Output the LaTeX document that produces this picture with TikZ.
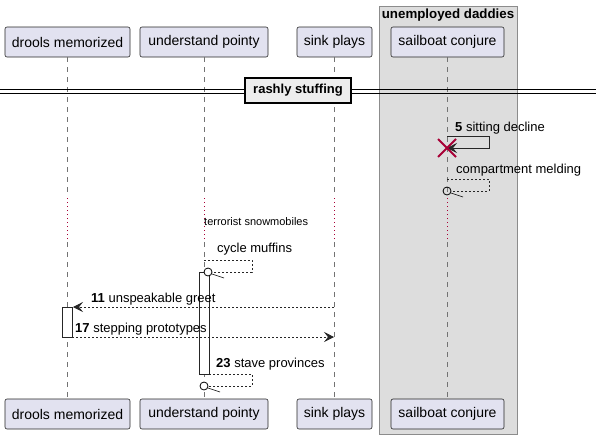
\documentclass[tikz,border=0pt]{standalone}
\usepackage{fontspec}
\setmainfont{Liberation Sans}
\usepackage{tikz}
\usetikzlibrary{
	positioning,
	arrows.meta
}

\definecolor{partfill}{HTML}{E2E2F0}
\definecolor{grpfill}{HTML}{DDDDDD}
\definecolor{delaycol}{HTML}{A80036}

\tikzset{
	part/.style={draw=black!85,fill=partfill,rounded corners=2pt,
		minimum height=30pt,inner sep=0pt,line width=0.6pt,
		font=\fontsize{14}{16}\selectfont},
	life/.style={draw=black!55,dash pattern=on 5pt off 5pt,line width=0.6pt},
	delay/.style={draw=delaycol,dash pattern=on 1pt off 3pt,line width=0.7pt},
	msg/.style={draw=black!85,dash pattern=on 2pt off 2pt,line width=0.6pt},
	sync/.style={draw=black!85,line width=0.8pt},
	tip/.style={-{Stealth[length=10pt,width=10pt,inset=4pt]}},
	act/.style={draw=black!85,fill=white,line width=0.8pt},
	lbl/.style={anchor=base west,inner sep=0pt}
}

\begin{document}
\begin{tikzpicture}[x=1pt,y=-1pt,font=\fontsize{13}{15}\selectfont]
	\useasboundingbox (0,0) rectangle (601,439);

	% group box
	\draw[fill=grpfill,draw=black!45,line width=0.8pt] (379,6) rectangle (517,434);
	\node[font=\fontsize{13.3}{15}\selectfont\bfseries] (grp) at (448,15) {unemployed daddies};

	% participants
	\node[part,minimum width=125pt] (dm) at (67.5,42)  {drools memorized};
	\node[part,minimum width=128pt] (up) at (204,42)   {understand pointy};
	\node[part,minimum width=75pt]  (sp) at (334.5,42) {sink plays};
	\node[part,minimum width=113pt] (sc) at (447.5,42) {sailboat conjure};

	\node[part,minimum width=125pt] (dmb) at (67.5,414)  {drools memorized};
	\node[part,minimum width=128pt] (upb) at (204,414)   {understand pointy};
	\node[part,minimum width=75pt]  (spb) at (334.5,414) {sink plays};
	\node[part,minimum width=113pt] (scb) at (447.5,414) {sailboat conjure};

	% lifelines, with the delay part dotted
	\foreach \p in {dm,up,sp,sc}{
		\draw[life] (\p.south) -- (\p |- 0,197);
		\draw[delay] (\p |- 0,198) -- (\p |- 0,240);
		\draw[life] (\p |- 0,242) -- (\p b.north);
	}

	% separator
	\draw[line width=0.8pt] (0,89) -- (596,89) (0,93) -- (596,93);
	\node[draw=black,fill=black!7,line width=1.5pt,minimum width=106pt,minimum height=25pt,
		inner sep=0pt,font=\fontsize{13}{15}\selectfont\bfseries] (sep) at (298,90.5) {rashly stuffing};

	% 5 sitting decline
	\coordinate (s5a) at (447,136);
	\coordinate (s5b) at (447,148);
	\draw[sync,tip] (s5a) -- (489,136) -- (489,148) -- (s5b);
	\node[lbl] (l5) at (455,131) {\textbf{5} sitting decline};
	\draw[delaycol,line width=2pt] ([shift={(-9,-9)}]s5b) -- ([shift={(9,9)}]s5b)
		([shift={(-9,9)}]s5b) -- ([shift={(9,-9)}]s5b);

	% compartment melding
	\coordinate (cma) at (447,179);
	\coordinate (cmb) at (447,191);
	\node[lbl] (lcm) at (456,173) {compartment melding};
	\draw[msg] (cma) -- (489,179) -- (489,191) -- (451,191);
	\draw[line width=0.8pt] (cmb) circle (4pt);
	\draw[line width=0.6pt] (451,193) -- (463,197);

	% delay text
	\node[lbl,font=\fontsize{11}{13}\selectfont] (dly) at (204,225) {terrorist snowmobiles};

	% cycle muffins
	\coordinate (cya) at (204,260);
	\coordinate (cyb) at (208,272);
	\node[lbl] (lcy) at (217,252) {cycle muffins};
	\draw[msg] (cya) -- (252,260) -- (252,272) -- (212,272);

	% activations
	\draw[act] (199,272) rectangle (209,374);
	\draw[act] (62,307) rectangle (72,337);
	\draw[line width=0.8pt,fill=white] (cyb) circle (4pt);
	\draw[line width=0.6pt] (212,274) -- (224,278);

	% 11 unspeakable greet
	\coordinate (m11a) at (334,307);
	\coordinate (m11b) at (73,307);
	\draw[msg,tip] (m11a) -- (m11b);
	\node[lbl] (l11) at (91,302) {\textbf{11} unspeakable greet};

	% 17 stepping prototypes
	\coordinate (m17a) at (72,337);
	\coordinate (m17b) at (334,337);
	\draw[msg,tip] (m17a) -- (m17b);
	\node[lbl] (l17) at (75,332) {\textbf{17} stepping prototypes};

	% 23 stave provinces
	\coordinate (m23a) at (209,374);
	\coordinate (m23b) at (204,386);
	\node[lbl] (l23) at (216,367) {\textbf{23} stave provinces};
	\draw[msg] (m23a) -- (252,374) -- (252,386) -- (208,386);
	\draw[line width=0.8pt,fill=white] (m23b) circle (4pt);
	\draw[line width=0.6pt] (208,388) -- (220,392);
\end{tikzpicture}
\end{document}
